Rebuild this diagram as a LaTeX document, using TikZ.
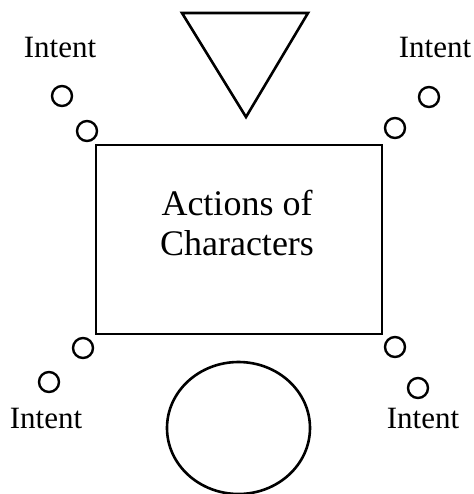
\documentclass[tikz,border=0pt]{standalone}
\usepackage{fontspec}
\setmainfont{Liberation Serif}
\usepackage{tikz}
\usetikzlibrary{shapes.geometric}

\tikzset{
  dot/.style={draw, circle, line width=1.2pt, minimum size=10pt, inner sep=0pt},
  intent/.style={anchor=base, inner sep=0pt, font=\fontsize{15.5}{18}\selectfont},
}

\begin{document}
\begin{tikzpicture}[x=0.5pt, y=-0.5pt, line width=1.3pt]
      \useasboundingbox (0, 0) rectangle (474, 494);
      \draw[line join=miter] (182, 13) -- (308, 13) -- (246, 117) -- cycle;
      \node[draw, line width=1.3pt, minimum width=143pt, minimum height=94.5pt, inner sep=0pt] (box) at (239, 239.5){};
      \node[align=center, anchor=base, inner sep=0pt, font=\fontsize{18}{20}\selectfont] (actions) at (237, 255){Actions of\\Characters};
      \node[draw, ellipse, line width=1.3pt, minimum width=71.5pt, minimum height=66pt, inner sep=0pt] (goal) at (238.5, 428){};

      \node[dot] (tl1) at (62, 96){};
      \node[dot] (tl2) at (87, 131){};
      \node[dot] (tr1) at (429, 97){};
      \node[dot] (tr2) at (395, 128){};
      \node[dot] (bl1) at (83, 348){};
      \node[dot] (bl2) at (49, 382){};
      \node[dot] (br1) at (395, 347){};
      \node[dot] (br2) at (418, 388){};

      \node[intent] (tl) at (60, 57){Intent};
      \node[intent] (tr) at (435, 57){Intent};
      \node[intent] (bl) at (46, 428){Intent};
      \node[intent] (br) at (423, 428){Intent};
    \end{tikzpicture}
\end{document}
